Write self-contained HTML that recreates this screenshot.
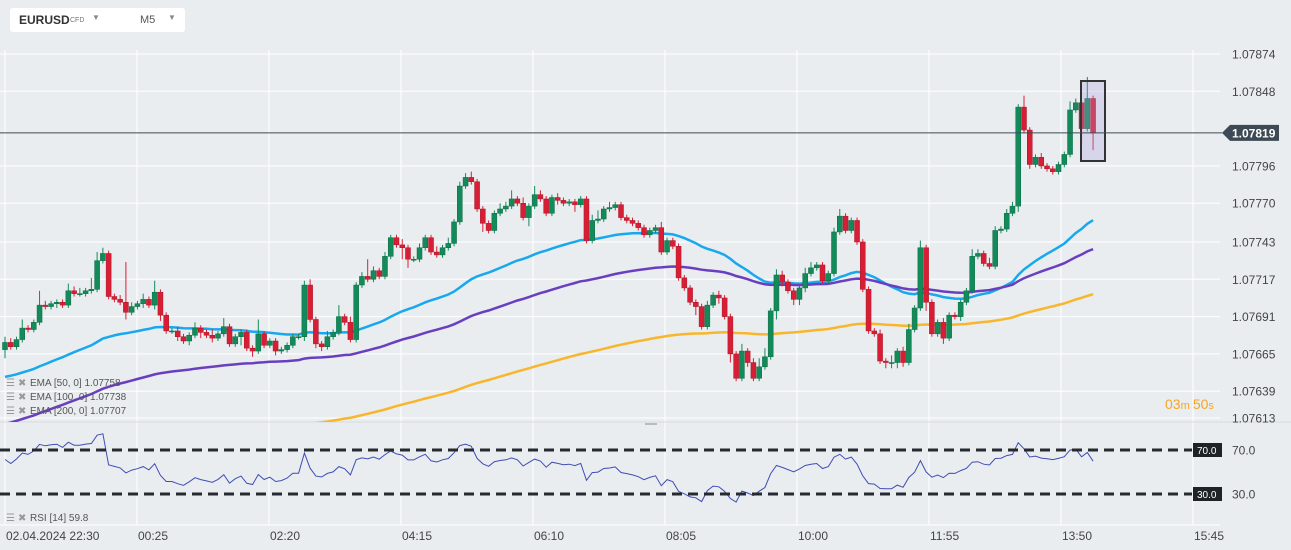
<!DOCTYPE html>
<html><head><meta charset="utf-8"><style>
html,body{margin:0;padding:0;background:#eaedf0;width:1291px;height:550px;overflow:hidden;font-family:"Liberation Sans",sans-serif}
svg{position:absolute;left:0;top:0}
.hdr{position:absolute;left:10px;top:8px;width:175px;height:24px;background:#fff;border-radius:3px}
</style></head><body>
<svg id="c" width="1291" height="550"></svg>
<div class="hdr">
<span style="position:absolute;left:9px;top:5px;font-size:12px;font-weight:bold;color:#333">EURUSD</span>
<span style="position:absolute;left:60px;top:9px;font-size:7px;color:#777">CFD</span>
<span style="position:absolute;left:82px;top:5px;font-size:8px;color:#888">▼</span>
<span style="position:absolute;left:130px;top:6px;font-size:11px;color:#555">M5</span>
<span style="position:absolute;left:158px;top:5px;font-size:8px;color:#888">▼</span>
</div>
<script>
const closes=[1.07673,1.07670,1.07675,1.07683,1.07682,1.07687,1.07699,1.07698,1.07700,1.07701,
1.07699,1.07709,1.07707,1.07707,1.07709,1.07710,1.07730,1.07735,1.07705,1.07703,
1.07701,1.07694,1.07698,1.07700,1.07703,1.07699,1.07708,1.07692,1.07681,1.07681,
1.07677,1.07674,1.07678,1.07683,1.07680,1.07678,1.07676,1.07679,1.07684,1.07672,
1.07677,1.07680,1.07669,1.07667,1.07679,1.07671,1.07674,1.07667,1.07668,1.07671,
1.07677,1.07677,1.07713,1.07689,1.07672,1.07670,1.07677,1.07680,1.07691,1.07687,
1.07675,1.07713,1.07719,1.07717,1.07723,1.07719,1.07733,1.07746,1.07741,1.07739,
1.07731,1.07731,1.07739,1.07746,1.07736,1.07734,1.07739,1.07742,1.07757,1.07782,
1.07788,1.07785,1.07766,1.07756,1.07751,1.07763,1.07766,1.07768,1.07773,1.07770,
1.07760,1.07768,1.07776,1.07773,1.07763,1.07774,1.07772,1.07770,1.07771,1.07769,
1.07773,1.07744,1.07758,1.07759,1.07766,1.07767,1.07769,1.07760,1.07758,1.07756,
1.07753,1.07748,1.07751,1.07753,1.07736,1.07744,1.07740,1.07718,1.07711,1.07701,
1.07698,1.07684,1.07699,1.07706,1.07704,1.07691,1.07665,1.07648,1.07667,1.07659,
1.07648,1.07656,1.07663,1.07695,1.07720,1.07715,1.07709,1.07703,1.07711,1.07721,
1.07725,1.07727,1.07716,1.07721,1.07750,1.07761,1.07751,1.07758,1.07743,1.07710,
1.07681,1.07679,1.07660,1.07659,1.07659,1.07667,1.07659,1.07682,1.07697,1.07739,
1.07701,1.07679,1.07687,1.07676,1.07692,1.07691,1.07701,1.07709,1.07733,1.07735,
1.07728,1.07726,1.07751,1.07752,1.07763,1.07768,1.07837,1.07821,1.07797,1.07802,
1.07796,1.07794,1.07792,1.07797,1.07804,1.07835,1.07840,1.07822,1.07843,1.07819];
const firstOpen=1.07668;
const upWick=[4,3,2,6,2,2,10,3,2,2, 2,5,3,4,2,8,6,4,2,2, 3,28,3,2,4,2,8,2,2,2, 3,2,2,4,2,2,4,2,6,2,
2,2,2,2,10,2,2,2,2,2, 2,2,3,4,2,2,4,2,8,2, 4,2,3,12,3,2,3,2,2,4, 2,2,3,2,2,4,2,4,2,3,
3,4,2,2,2,2,4,3,6,2, 4,2,6,3,2,2,3,2,2,2, 2,2,4,6,2,4,2,2,2,2, 2,2,2,2,4,2,2,2,2,2,
2,2,3,2,3,2,2,2,5,2, 3,6,6,2,4,3,2,2,2,4, 4,2,2,2,3,5,2,2,2,2, 2,2,3,2,5,2,3,4,2,5,
2,2,2,3,2,2,2,2,5,3, 2,4,3,2,3,3,2,8,2,2, 3,2,2,2,2,6,3,2,15,2];
const dnWick=[6,2,2,2,2,2,2,2,2,3, 2,2,2,2,2,2,2,2,2,2, 2,5,2,2,3,2,3,4,2,2, 3,2,3,2,4,2,3,2,2,2,
2,6,2,4,2,2,2,3,2,2, 2,2,3,2,3,3,2,2,2,2, 2,2,2,2,2,2,2,2,2,8, 6,2,2,2,2,2,2,2,2,2,
2,2,2,6,2,2,2,2,2,2, 2,6,2,2,2,2,3,2,2,5, 2,2,2,2,2,2,2,2,2,2, 2,2,2,2,2,2,2,2,2,2,
6,2,2,2,4,2,6,2,2,3, 2,2,2,2,6,3,2,4,4,3, 2,2,2,2,2,2,2,2,2,2, 2,2,2,4,4,4,3,2,2,2,
6,2,2,4,2,2,3,2,2,2, 2,2,2,2,2,2,4,2,3,2, 2,2,2,2,2,2,2,10,2,12];
const priceTicks=[1.07874,1.07848,1.07796,1.07770,1.07743,1.07717,1.07691,1.07665,1.07639,1.07613];
const timeLabels=["02.04.2024  22:30","00:25","02:20","04:15","06:10","08:05","10:00","11:55","13:50","15:45"];
const emaPeriods=[50,100,200];
const emaSeeds=[1.07648,1.07615,1.07565];
const emaColors=["#17a8ee","#6a3fbf","#f8b62c"];
const rsiLevels=[70,30];
const rsiSeedGain=2.0, rsiSeedLoss=1.5;
const currentPrice=1.07819;

const NS="http://www.w3.org/2000/svg";
const svg=document.getElementById('c');
function mk(t,a,p){const e=document.createElementNS(NS,t);for(const k in a)e.setAttribute(k,a[k]);(p||svg).appendChild(e);return e;}
const yP=p=>54+(1.07874-p)*143500;
const xI=i=>5+i*5.757;
const yR=r=>527-r*1.1;
const MAIN_BOT=422;

const grid=mk('g',{});
for(let k=0;k<10;k++){const x=5+k*132;mk('line',{x1:x,x2:x,y1:50,y2:525,stroke:'#fff','stroke-width':1},grid);}
priceTicks.forEach(p=>{const y=Math.min(yP(p),418);mk('line',{x1:0,x2:1220,y1:y,y2:y,stroke:'#fff','stroke-width':1},grid);});
mk('line',{x1:0,x2:1291,y1:422,y2:422,stroke:'#d5d9de','stroke-width':1},grid);
mk('line',{x1:0,x2:1220,y1:525,y2:525,stroke:'#fff','stroke-width':1},grid);
mk('rect',{x:645,y:423,width:12,height:2,fill:'#b8bcc2'},grid);

const defs=mk('defs',{});const cp=mk('clipPath',{id:'mc'},defs);mk('rect',{x:0,y:40,width:1220,height:MAIN_BOT-40},cp);
const main=mk('g',{'clip-path':'url(#mc)'});

emaPeriods.forEach((per,j)=>{const a=2/(per+1);let e=emaSeeds[j];let d='';
closes.forEach((c,i)=>{e=a*c+(1-a)*e;d+=(i?'L':'M')+xI(i).toFixed(1)+' '+yP(e).toFixed(1);});
const pth=mk('path',{d:d,fill:'none',stroke:emaColors[j],'stroke-width':2.5},main);

});

closes.forEach((c,i)=>{const o=i?closes[i-1]:firstOpen;const up=c>=o;const col=up?'#138a5a':'#d81e34';
const hi=Math.max(o,c)+upWick[i]*1e-5, lo=Math.min(o,c)-dnWick[i]*1e-5;const x=xI(i);
const g=mk('g',{},main);


mk('line',{x1:x,x2:x,y1:yP(hi),y2:yP(lo),stroke:col,'stroke-width':1},g);
const yt=yP(Math.max(o,c)),yb=yP(Math.min(o,c));
mk('rect',{x:x-2.5,y:yt,width:5,height:Math.max(1,yb-yt),fill:col,stroke:up?'#0d6b44':'#a8162a','stroke-width':0.5},g);});

const hb=mk('rect',{x:1081,y:81,width:24,height:80,fill:'rgba(170,160,220,0.3)',stroke:'#333','stroke-width':2});



const cy=yP(currentPrice);
mk('line',{x1:0,x2:1222,y1:cy,y2:cy,stroke:'#3d4a55','stroke-width':1});
const tag=mk('path',{d:`M1222 ${cy} L1230 ${cy-8} L1279 ${cy-8} L1279 ${cy+8} L1230 ${cy+8} Z`,fill:'#3d4a55'});


const ct=mk('text',{x:1232,y:cy+4.5,'font-size':12,'font-weight':'bold',fill:'#fff'});ct.textContent=currentPrice.toFixed(5);



priceTicks.forEach(p=>{const y=Math.min(yP(p),418);const t=mk('text',{x:1232,y:y+4.5,'font-size':12,fill:'#444'});t.textContent=p.toFixed(5);

});

timeLabels.forEach((s,k)=>{const t=mk('text',{x:5+k*132+1,y:540,'font-size':12,fill:'#444','xml:space':'preserve'});t.textContent=s;

});

let ag=rsiSeedGain,al=rsiSeedLoss,rd='',lastR=50;
closes.forEach((c,i)=>{const o=i?closes[i-1]:firstOpen;const d=(c-o)*1e5;ag=(ag*13+Math.max(d,0))/14;al=(al*13+Math.max(-d,0))/14;
const r=100-100/(1+ag/al);lastR=r;rd+=(i?'L':'M')+xI(i).toFixed(1)+' '+yR(r).toFixed(1);});
const rl=mk('path',{d:rd,fill:'none',stroke:'#3f4db3','stroke-width':1});


rsiLevels.forEach(v=>{const y=yR(v);
const l=mk('line',{x1:0,x2:1192,y1:y,y2:y,stroke:'#252a30','stroke-width':3,'stroke-dasharray':'10 6'});


mk('rect',{x:1193,y:y-7,width:29,height:14,fill:'#1f2328'});
const t=mk('text',{x:1197,y:y+4,'font-size':10,fill:'#fff'});t.textContent=v.toFixed(1);
const t2=mk('text',{x:1232,y:y+4.5,'font-size':12,fill:'#444'});t2.textContent=v.toFixed(1);

});

function legend(y,txt,name){const g=mk('g',{});
const a=mk('text',{x:6,y:y,'font-size':10,fill:'#999'},g);a.textContent='☰';
const b=mk('text',{x:18,y:y,'font-size':10,fill:'#999'},g);b.textContent='✖';
const c=mk('text',{x:30,y:y,'font-size':10,fill:'#555','xml:space':'preserve'},g);c.textContent=txt;}
let ee=[0,0,0];emaPeriods.forEach((per,j)=>{const a=2/(per+1);let e=emaSeeds[j];closes.forEach(c=>{e=a*c+(1-a)*e;});ee[j]=e;});
legend(386,'EMA  [50,  0]  '+ee[0].toFixed(5),'ema-50-legend');
legend(400,'EMA  [100,  0]  '+ee[1].toFixed(5),'ema-100-legend');
legend(414,'EMA  [200,  0]  '+ee[2].toFixed(5),'ema-200-legend');
legend(521,'RSI  [14]  '+lastR.toFixed(1),'rsi-legend');

const tm=mk('text',{x:1165,y:409,fill:'#f5a623','font-size':14});
tm.innerHTML='03<tspan font-size="11">m </tspan>50<tspan font-size="11">s</tspan>';
</script>
</body></html>
